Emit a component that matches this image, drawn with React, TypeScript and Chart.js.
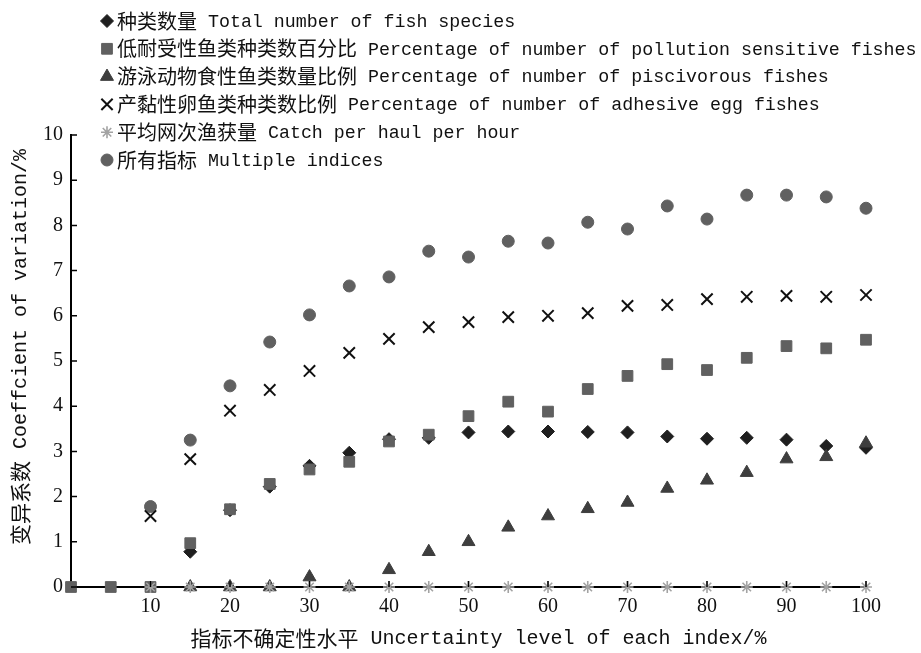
import React, { useEffect, useRef } from "react";
import { Chart, registerables } from "chart.js";
import { drawPoint } from "chart.js/helpers";

Chart.register(...registerables);

const levels = [0, 5, 10, 15, 20, 25, 30, 35, 40, 45, 50, 55, 60, 65, 70, 75, 80, 85, 90, 95, 100];

const totalSpecies = [null, null, null, 0.78, 1.7, 2.22, 2.68, 2.97, 3.27, 3.3, 3.42, 3.44, 3.44, 3.43, 3.42, 3.33, 3.28, 3.3, 3.26, 3.12, 3.08];
const sensitive = [0, 0, 0, 0.97, 1.72, 2.28, 2.6, 2.77, 3.22, 3.37, 3.78, 4.1, 3.88, 4.38, 4.67, 4.93, 4.8, 5.07, 5.33, 5.28, 5.47];
const piscivorous = [null, null, null, 0, 0, 0, 0.22, 0, 0.38, 0.78, 1.0, 1.32, 1.57, 1.73, 1.87, 2.18, 2.36, 2.53, 2.83, 2.88, 3.18];
const adhesive = [null, null, 1.57, 2.83, 3.9, 4.36, 4.78, 5.18, 5.49, 5.75, 5.86, 5.97, 6.0, 6.06, 6.22, 6.24, 6.37, 6.42, 6.44, 6.42, 6.46];
const catchPerHaul = [null, null, 0, 0, 0, 0, 0, 0, 0, 0, 0, 0, 0, 0, 0, 0, 0, 0, 0, 0, 0];
const multiple = [null, null, 1.78, 3.25, 4.45, 5.42, 6.02, 6.66, 6.86, 7.43, 7.3, 7.65, 7.61, 8.07, 7.92, 8.43, 8.14, 8.67, 8.67, 8.63, 8.38];

const seriesCn = ["种类数量", "低耐受性鱼类种类数百分比", "游泳动物食性鱼类数量比例", "产黏性卵鱼类种类数比例", "平均网次渔获量", "所有指标"];
const seriesEn = [
  "Total number of fish species",
  "Percentage of number of pollution sensitive fishes",
  "Percentage of number of piscivorous fishes",
  "Percentage of number of adhesive egg fishes",
  "Catch per haul per hour",
  "Multiple indices",
];

const yTicks = [0, 1, 2, 3, 4, 5, 6, 7, 8, 9, 10];
const xTicks = [10, 20, 30, 40, 50, 60, 70, 80, 90, 100];

const xTitleCn = "指标不确定性水平";
const xTitleEn = "Uncertainty level of each index/%";
const yTitleCn = "变异系数";
const yTitleEn = "Coeffcient of variation/%";

function toPoints(vals: (number | null)[]) {
  return levels.map((x, i) => ({ x, y: vals[i] })).filter((p) => p.y !== null);
}

const styles = [
  { pointStyle: "rectRot", radius: 6.5, bg: "#1f1f1f", border: "#1f1f1f", bw: 1, order: 4 },
  { pointStyle: "rect", radius: 7.6, bg: "#606060", border: "#606060", bw: 1, order: 3 },
  { pointStyle: "triangle", radius: 7.5, bg: "#3e3e3e", border: "#3e3e3e", bw: 1, order: 2 },
  { pointStyle: "crossRot", radius: 8, bg: "#111111", border: "#111111", bw: 2, order: 0 },
  { pointStyle: "star", radius: 6, bg: "#a3a3a3", border: "#a3a3a3", bw: 1.6, order: 1 },
  { pointStyle: "circle", radius: 6, bg: "#606060", border: "#606060", bw: 1, order: 5 },
];

const CN_FONT = "21px 'Noto Sans CJK SC'";
const EN_FONT = "20px 'Liberation Mono'";

function drawMixedCentered(ctx: CanvasRenderingContext2D, cn: string, en: string, cx: number, cy: number) {
  ctx.font = CN_FONT;
  const wc = ctx.measureText(cn).width;
  ctx.font = EN_FONT;
  const we = ctx.measureText(" " + en).width;
  const start = cx - (wc + we) / 2;
  ctx.textAlign = "left";
  ctx.textBaseline = "middle";
  ctx.font = CN_FONT;
  ctx.fillText(cn, start, cy);
  ctx.font = EN_FONT;
  ctx.fillText(" " + en, start + wc, cy + 1);
}

const legendPlugin = {
  id: "customLegend",
  afterDraw(chart: any) {
    const ctx = chart.ctx;
    const area = chart.chartArea;
    const mx = area.left + 36;
    const tx = area.left + 46;
    const y0 = area.top - 114;
    const step = 27.8;
    ctx.save();
    ctx.textBaseline = "middle";
    for (let i = 0; i < seriesCn.length; i++) {
      const s = styles[i];
      const y = y0 + i * step;
      ctx.fillStyle = s.bg;
      ctx.strokeStyle = s.border;
      ctx.lineWidth = s.bw;
      drawPoint(ctx, { pointStyle: s.pointStyle, radius: s.radius, rotation: 0, borderWidth: s.bw }, mx, y);
      ctx.fillStyle = "#111";
      ctx.font = "20px 'Noto Sans CJK SC'";
      const cn = seriesCn[i];
      ctx.fillText(cn, tx, y);
      const w = ctx.measureText(cn).width;
      ctx.font = "18.3px 'Liberation Mono'";
      ctx.fillText(" " + seriesEn[i], tx + w, y + 1);
    }
    // axis titles
    ctx.fillStyle = "#111";
    const cx = (area.left + area.right) / 2 + 10;
    drawMixedCentered(ctx, xTitleCn, xTitleEn, cx, chart.height - 15);
    ctx.save();
    ctx.translate(20, (area.top + area.bottom) / 2 - 14);
    ctx.rotate(-Math.PI / 2);
    drawMixedCentered(ctx, yTitleCn, yTitleEn, 0, 0);
    ctx.restore();
    ctx.restore();
  },
};

const innerTicksPlugin = {
  id: "innerTicks",
  afterDraw(chart: any) {
    const ctx = chart.ctx;
    const xs = chart.scales.x;
    const ys = chart.scales.y;
    ctx.save();
    ctx.strokeStyle = "#000";
    ctx.lineWidth = 1.5;
    ctx.beginPath();
    for (const v of yTicks) {
      const py = ys.getPixelForValue(v);
      ctx.moveTo(xs.left, py);
      ctx.lineTo(xs.left + 6, py);
    }
    for (const v of xTicks) {
      const px = xs.getPixelForValue(v);
      ctx.moveTo(px, ys.bottom);
      ctx.lineTo(px, ys.bottom - 6);
    }
    ctx.stroke();
    ctx.restore();
  },
};

export default function App() {
  const ref = useRef<HTMLCanvasElement | null>(null);
  useEffect(() => {
    document.body.style.margin = "0";
    const canvas = ref.current;
    if (!canvas) return;
    const allSeries = [totalSpecies, sensitive, piscivorous, adhesive, catchPerHaul, multiple];
    const chart = new Chart(canvas, {
      type: "scatter",
      data: {
        datasets: allSeries.map((vals, i) => ({
          label: seriesCn[i] + " " + seriesEn[i],
          data: toPoints(vals),
          pointStyle: styles[i].pointStyle as any,
          pointRadius: styles[i].radius,
          pointHoverRadius: styles[i].radius,
          backgroundColor: styles[i].bg,
          borderColor: styles[i].border,
          borderWidth: styles[i].bw,
          order: styles[i].order,
          showLine: false,
          clip: false as any,
        })),
      },
      options: {
        responsive: false,
        animation: false,
        devicePixelRatio: 1,
        layout: { padding: { top: 135, right: 55, bottom: 0, left: 0 } },
        plugins: { legend: { display: false }, tooltip: { enabled: false } },
        scales: {
          x: {
            type: "linear",
            min: 0,
            max: 100,
            z: 1,
            afterFit: (s: any) => {
              s.height = 66;
            },
            grid: { display: true, drawOnChartArea: false, drawTicks: false },
            border: { display: true, color: "#000", width: 2 },
            ticks: {
              stepSize: 10,
              padding: 8,
              color: "#111",
              font: { family: "'Liberation Serif'", size: 20 },
              callback: (v: any) => (xTicks.includes(Number(v)) ? String(v) : ""),
            },
            title: { display: false },
          },
          y: {
            type: "linear",
            min: 0,
            max: 10,
            afterFit: (s: any) => {
              s.width = 71;
            },
            grid: { display: true, drawOnChartArea: false, drawTicks: false },
            border: { display: true, color: "#000", width: 2 },
            ticks: {
              stepSize: 1,
              padding: 8,
              color: "#111",
              font: { family: "'Liberation Serif'", size: 20 },
              callback: (v: any) => (yTicks.includes(Number(v)) ? String(v) : ""),
            },
            title: { display: false },
          },
        },
      },
      plugins: [legendPlugin, innerTicksPlugin],
    });
    return () => chart.destroy();
  }, []);
  return <canvas ref={ref} width={921} height={653} style={{ display: "block" }} />;
}
